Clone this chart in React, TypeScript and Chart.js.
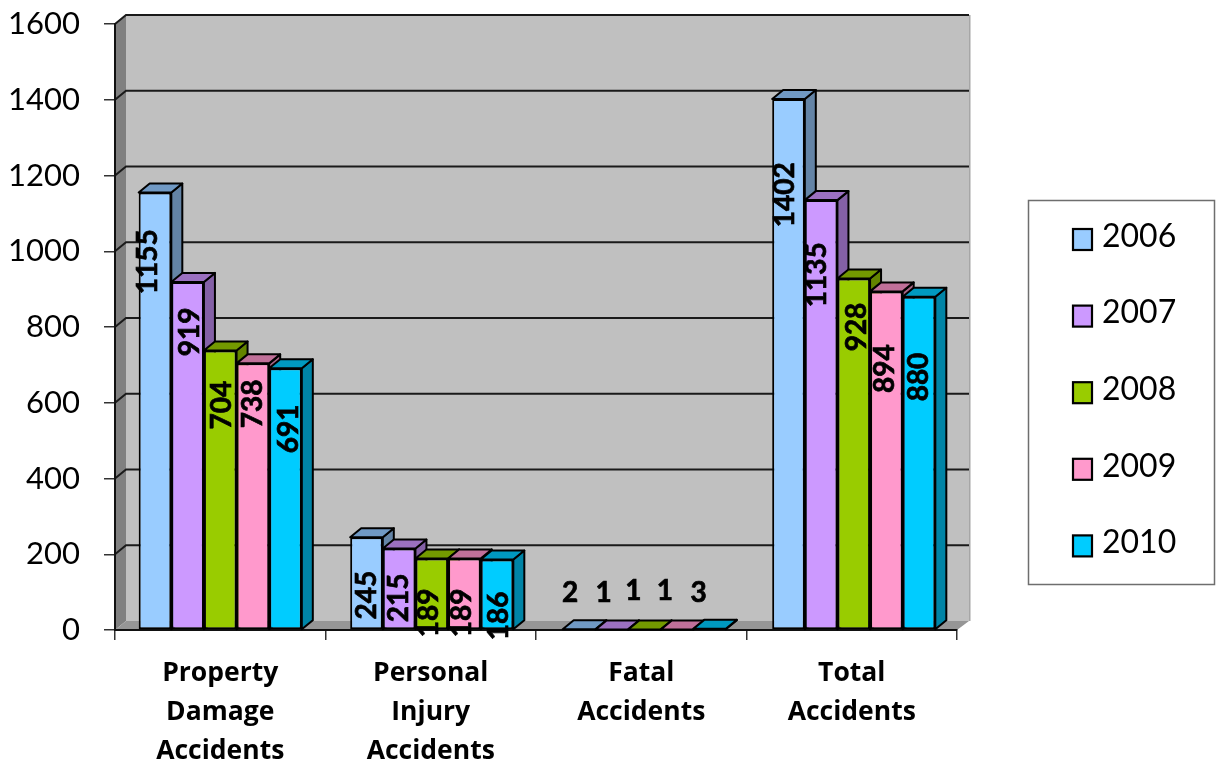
import React, { useEffect, useRef } from "react";
import { Chart, registerables } from "chart.js";

Chart.register(...registerables);

const categories = [
  ["Property", "Damage", "Accidents"],
  ["Personal", "Injury", "Accidents"],
  ["Fatal", "Accidents"],
  ["Total", "Accidents"],
];
const seriesNames = ["2006", "2007", "2008", "2009", "2010"];

// Bar heights
const values2006 = [1155, 245, 2, 1402];
const values2007 = [919, 215, 1, 1135];
const values2008 = [738, 189, 1, 928];
const values2009 = [704, 189, 1, 894];
const values2010 = [691, 186, 3, 880];
const seriesValues = [values2006, values2007, values2008, values2009, values2010];

// Value labels as printed in the picture
const labels2006 = ["1155", "245", "2", "1402"];
const labels2007 = ["919", "215", "1", "1135"];
const labels2008 = ["704", "189", "1", "928"];
const labels2009 = ["738", "189", "1", "894"];
const labels2010 = ["691", "186", "3", "880"];
const seriesLabels = [labels2006, labels2007, labels2008, labels2009, labels2010];

const labelAnchors = [
  [972, 92, 98, 1149],
  [787, 85, 98, 938],
  [594, 45, 103, 800],
  [597, 45, 103, 690],
  [531, 37, 98, 668],
];
const labelNudges = [
  [-7, 0, -9, -4],
  [2, 0, -8, -4],
  [2, -3, -11, 3],
  [0, -2, -12, -1],
  [3, 2, -11, 0],
];
const clusterDrift = [0, 1, 3, 2];

const fills = ["#99ccff", "#cc99ff", "#99cc00", "#ff99cc", "#00ccff"];
const tops = ["#7099c4", "#9b70c0", "#739900", "#c07099", "#0099c0"];
const sides = ["#6484a6", "#8460a6", "#638400", "#a66484", "#0084a6"];

const DX = 11;
const DY = -9;
const FONT = 'Lato, sans-serif';
const CATEGORY_FONT = '"Open Sans", sans-serif';
const FRONT_PLANE = { left: 115, top: 24, right: 957, bottom: 630 };
const HORIZONTAL_LABEL_CATEGORY = 2;

function poly(ctx: CanvasRenderingContext2D, pts: number[][], fill: string, stroke = "#000", lw = 2) {
  ctx.beginPath();
  pts.forEach((p, i) => (i ? ctx.lineTo(p[0], p[1]) : ctx.moveTo(p[0], p[1])));
  ctx.closePath();
  ctx.fillStyle = fill;
  ctx.fill();
  ctx.strokeStyle = stroke;
  ctx.lineWidth = lw;
  ctx.lineJoin = "round";
  ctx.stroke();
}

const wallPlugin = {
  id: "wall",
  afterDatasetsUpdate(chart: any) {
    categories.forEach((_, c) => {
      seriesNames.forEach((_, s) => {
        chart.getDatasetMeta(s).data[c].x += clusterDrift[c];
      });
    });
  },
  beforeDraw(chart: any) {
    const { ctx, chartArea: a, scales } = chart;
    const bl = a.left, br = a.right, t = a.top, b = a.bottom;
    ctx.save();
    // back wall
    ctx.fillStyle = "#c0c0c0";
    ctx.fillRect(bl + DX, t + DY, br - bl + 1, b - t);
    ctx.fillStyle = "#a6a6a6";
    ctx.fillRect(br + DX + 1, t + DY, 1.5, b - t);
    // side wall
    ctx.beginPath();
    ctx.moveTo(bl, t); ctx.lineTo(bl + DX, t + DY); ctx.lineTo(bl + DX, b + DY); ctx.lineTo(bl, b);
    ctx.closePath();
    ctx.fillStyle = "#808080";
    ctx.fill();
    // floor
    ctx.beginPath();
    ctx.moveTo(bl, b); ctx.lineTo(bl + DX, b + DY); ctx.lineTo(br + DX + 1, b + DY); ctx.lineTo(br, b);
    ctx.closePath();
    ctx.fillStyle = "#969696";
    ctx.fill();
    // grid lines around the walls
    ctx.strokeStyle = "#1a1a1a";
    ctx.lineWidth = 2;
    scales.y.ticks.forEach((tick: any) => {
      if (tick.value === 0) return;
      const y = scales.y.getPixelForValue(tick.value);
      ctx.beginPath();
      ctx.moveTo(bl, y); ctx.lineTo(bl + DX, y + DY); ctx.lineTo(br + DX + 1, y + DY);
      ctx.stroke();
    });
    ctx.restore();
  },
  beforeDatasetsDraw(chart: any) {
    const { ctx } = chart;
    ctx.save();
    categories.forEach((_, c) => {
      seriesNames.forEach((_, s) => {
        const bar = chart.getDatasetMeta(s).data[c];
        const l = bar.x - bar.width / 2, r = bar.x + bar.width / 2;
        const y = bar.y, base = bar.base;
        poly(ctx, [[r, y], [r + DX, y + DY], [r + DX, base + DY], [r, base]], sides[s]);
        poly(ctx, [[l, y], [l + DX, y + DY], [r + DX, y + DY], [r, y]], tops[s]);
      });
    });
    ctx.restore();
  },
  afterDatasetsDraw(chart: any) {
    const { ctx, scales } = chart;
    ctx.save();
    ctx.fillStyle = "#000";
    ctx.strokeStyle = "#000";
    ctx.lineWidth = 0.7;
    ctx.font = `bold 28px ${FONT}`;
    ctx.textAlign = "center";
    ctx.textBaseline = "middle";
    categories.forEach((_, c) => {
      seriesNames.forEach((_, s) => {
        const bar = chart.getDatasetMeta(s).data[c];
        const x = bar.x + labelNudges[s][c];
        const y = scales.y.getPixelForValue(labelAnchors[s][c]);
        ctx.save();
        ctx.translate(x, y);
        if (c !== HORIZONTAL_LABEL_CATEGORY) ctx.rotate(-Math.PI / 2);
        ctx.fillText(seriesLabels[s][c], 0, 0);
        ctx.strokeText(seriesLabels[s][c], 0, 0);
        ctx.restore();
      });
    });
    ctx.restore();

    // legend box
    ctx.save();
    ctx.strokeStyle = "#6e6e6e";
    ctx.lineWidth = 1.5;
    ctx.strokeRect(1028.5, 200.5, 186, 384);
    ctx.font = `32px ${FONT}`;
    ctx.textAlign = "left";
    ctx.textBaseline = "middle";
    chart.data.datasets.forEach((d: any, i: number) => {
      const cy = 236 + i * 76.6;
      ctx.fillStyle = d.backgroundColor;
      ctx.fillRect(1073, cy - 7, 19, 21);
      ctx.strokeStyle = "#000";
      ctx.lineWidth = 2.2;
      ctx.strokeRect(1073, cy - 7, 19, 21);
      ctx.fillStyle = "#000";
      ctx.fillText(d.label, 1102, cy + 0.5);
    });
    ctx.restore();
  },
};

export default function App() {
  const ref = useRef<HTMLCanvasElement>(null);
  useEffect(() => {
    const chart = new Chart(ref.current!, {
      type: "bar",
      data: {
        labels: categories as any,
        datasets: seriesNames.map((name, i) => ({
          label: name,
          data: seriesValues[i],
          backgroundColor: fills[i],
          borderColor: "#000",
          borderWidth: 2,
          borderSkipped: false,
          categoryPercentage: 0.775,
          barPercentage: 1,
        })),
      },
      options: {
        responsive: false,
        animation: false,
        devicePixelRatio: 1,
        layout: {
          padding: { left: 0, top: FRONT_PLANE.top, right: 1222 - FRONT_PLANE.right, bottom: 0 },
        },
        plugins: { legend: { display: false }, tooltip: { enabled: false } },
        scales: {
          x: {
            afterFit: (s: any) => { s.height = 766 - FRONT_PLANE.bottom; s.paddingLeft = 0; s.paddingRight = 0; },
            grid: { drawOnChartArea: false, tickLength: 10, color: "#333", lineWidth: 1.5, offset: true },
            border: { color: "#111", width: 2 },
            ticks: {
              color: "#000",
              maxRotation: 0,
              autoSkip: false,
              padding: 14,
              font: { family: CATEGORY_FONT, size: 26.5, weight: "bold", lineHeight: 1.47 },
            },
          },
          y: {
            min: 0,
            max: 1600,
            afterFit: (s: any) => { s.width = FRONT_PLANE.left; s.paddingTop = 0; s.paddingBottom = 0; },
            grid: { drawOnChartArea: false, tickLength: 11, color: "#333", lineWidth: 1.5 },
            border: { color: "#111", width: 2 },
            ticks: {
              stepSize: 200,
              color: "#000",
              padding: 24,
              font: { family: FONT, size: 31 },
              callback: (v: any) => String(v),
            },
          },
        },
      },
      plugins: [wallPlugin],
    } as any);
    return () => chart.destroy();
  }, []);
  return (
    <div style={{ position: "absolute", left: 0, top: 0, background: "#fff" }}>
      <canvas ref={ref} width={1222} height={766} style={{ display: "block" }} />
    </div>
  );
}
